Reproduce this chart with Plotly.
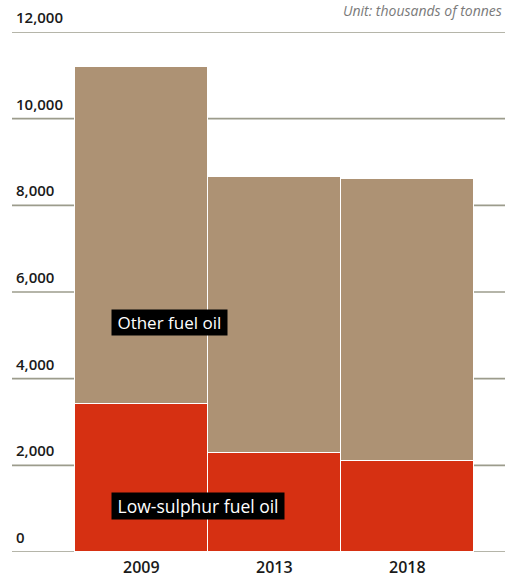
import plotly.graph_objects as go

years = ["2009", "2013", "2018"]
low_sulphur = [3420, 2290, 2110]
other_fuel = [7780, 6360, 6490]
y_ticks = [0, 2000, 4000, 6000, 8000, 10000, 12000]
y_tick_labels = ["0", "2,000", "4,000", "6,000", "8,000", "10,000", "12,000"]

xpos = list(range(len(years)))
FONT = "Open Sans"

fig = go.Figure()
fig.add_trace(go.Bar(x=xpos, y=low_sulphur, width=1, name="Low-sulphur fuel oil",
                     marker=dict(color="#D63012", line=dict(color="white", width=1.5)),
                     hoverinfo="skip"))
fig.add_trace(go.Bar(x=xpos, y=other_fuel, width=1, name="Other fuel oil",
                     marker=dict(color="#AD9274", line=dict(color="white", width=1.5)),
                     hoverinfo="skip"))

# gridlines and y tick labels
for v, lab in zip(y_ticks, y_tick_labels):
    fig.add_shape(type="line", xref="paper", yref="y", x0=0, x1=1, y0=v, y1=v,
                  line=dict(color="#9C9C8C", width=1.6), layer="below")
    fig.add_annotation(xref="paper", yref="y", x=0.004, y=v, text=lab,
                       showarrow=False, xanchor="left", yanchor="bottom", yshift=3,
                       font=dict(family=FONT, size=15, color="#1a1a1a", weight=600))

# x tick labels
for xp, yr in zip(xpos, years):
    fig.add_annotation(xref="x", yref="paper", x=xp, y=0, text=yr, showarrow=False,
                       xanchor="center", yanchor="top", yshift=-2,
                       font=dict(family=FONT, size=16, color="#1a1a1a", weight=600))

fig.add_annotation(xref="paper", yref="paper", x=0.998, y=1, yshift=10,
                   text="<i>Unit: thousands of tonnes</i>", showarrow=False,
                   xanchor="right", yanchor="bottom",
                   font=dict(family=FONT, size=14, color="#7a7a7a"))

fig.add_annotation(x=-0.233, y=5290, text="\u00a0Other fuel oil\u00a0", showarrow=False,
                   xanchor="left", yanchor="middle", bgcolor="#000000", borderpad=1,
                   font=dict(family=FONT, size=17, color="white"))
fig.add_annotation(x=-0.233, y=1070, text="\u00a0Low-sulphur fuel oil\u00a0", showarrow=False,
                   xanchor="left", yanchor="middle", bgcolor="#000000", borderpad=1,
                   font=dict(family=FONT, size=17.5, color="white"))

fig.update_layout(
    barmode="stack", bargap=0,
    width=505, height=578,
    margin=dict(l=12, r=0, t=32, b=25.5),
    paper_bgcolor="white", plot_bgcolor="white",
    showlegend=False,
    xaxis=dict(range=[-0.977, 2.73], showgrid=False, zeroline=False, showline=False,
               showticklabels=False, ticks=""),
    yaxis=dict(range=[0, 12000], showgrid=False, zeroline=False, showticklabels=False,
               showline=False),
)

fig.write_html("out.html", config={"displayModeBar": False},
               post_script="document.body.style.margin='0';document.body.style.overflow='hidden';")
